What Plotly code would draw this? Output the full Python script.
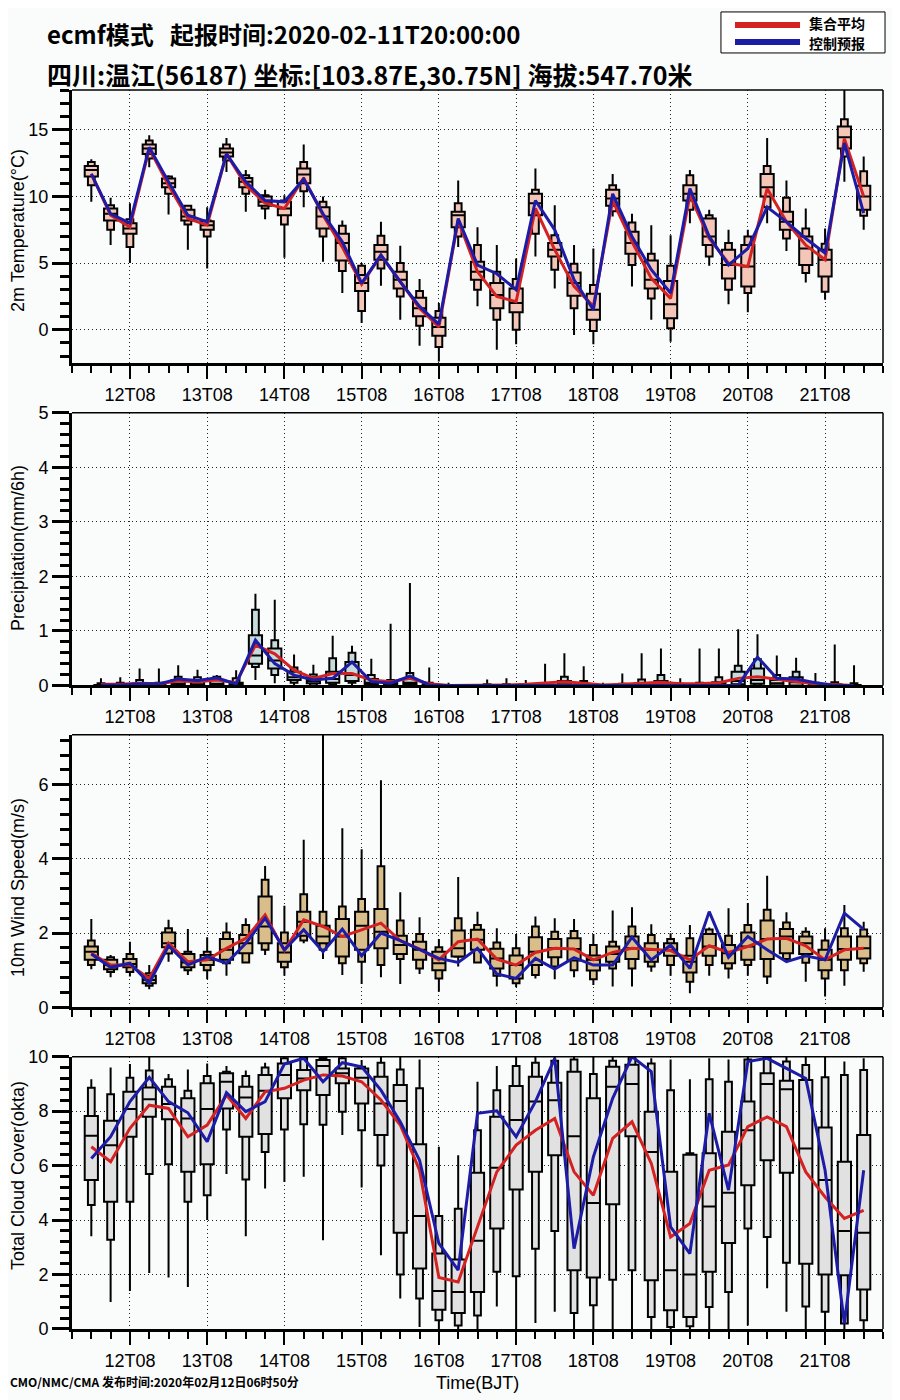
import plotly.graph_objects as go

# ---------------- time axis (hours after 2020-02-11T20 BJT) ----------------
HOURS = [6 * i for i in range(41)]              # 11T20 ... 21T20
PRECIP_HOURS = [3 + 6 * k for k in range(40)]   # middle of 6-h accumulation windows
MAJOR_TICKS = [12 + 24 * d for d in range(10)]
MAJOR_LABELS = ["12T08", "13T08", "14T08", "15T08", "16T08",
                "17T08", "18T08", "19T08", "20T08", "21T08"]

# ---------------- 2m temperature ----------------
T_MAX = [12.8, 9.9, 9.5, 14.6, 11.6, 9.35, 9.2, 14.4, 12.0, 10.5, 10.1, 13.9, 10.0, 8.2, 5.0, 8.1, 6.3, 3.8, 2.0, 11.2,
         7.7, 6.35, 5.35, 12.1, 9.35, 6.35, 6.1, 11.7, 8.7, 7.85, 7.1, 12.0, 9.0, 7.5, 7.5, 14.4, 11.2, 9.1, 7.6, 18.0, 13.0]
T_P90 = [12.6, 9.35, 8.3, 14.2, 11.5, 9.3, 8.2, 13.9, 11.6, 10.1, 9.7, 12.6, 9.6, 7.8, 4.8, 7.05, 5.0, 2.9, 1.4, 9.5,
         6.35, 4.35, 3.8, 10.5, 7.1, 4.95, 3.35, 10.85, 8.05, 5.7, 4.8, 11.6, 8.6, 6.5, 7.0, 12.3, 9.9, 7.6, 6.45, 15.8, 11.9]
T_P75 = [12.3, 9.1, 8.0, 13.9, 11.35, 9.0, 8.15, 13.6, 11.4, 10.0, 9.6, 12.1, 9.2, 7.2, 4.1, 6.35, 4.35, 2.4, 0.9, 8.85,
         5.1, 3.5, 3.1, 10.2, 6.5, 4.3, 2.7, 10.5, 7.35, 5.2, 3.65, 10.85, 8.35, 6.0, 6.35, 11.7, 8.85, 7.0, 6.0, 15.25, 10.8]
T_MED = [12.0, 8.7, 7.6, 13.6, 11.0, 8.5, 7.85, 13.3, 11.1, 9.6, 9.1, 11.65, 8.5, 6.5, 3.5, 5.85, 3.75, 1.6, 0.2, 8.6,
         4.35, 2.6, 2.0, 9.5, 6.0, 3.5, 1.5, 9.85, 6.5, 3.75, 1.9, 10.2, 7.0, 4.85, 4.75, 10.7, 8.1, 6.1, 5.25, 14.45, 10.0]
T_P25 = [11.5, 8.2, 7.2, 13.2, 10.7, 8.2, 7.5, 13.0, 10.7, 9.3, 8.6, 11.0, 7.6, 5.2, 2.9, 5.25, 3.1, 1.0, -0.45, 7.7,
         3.75, 1.6, 1.3, 8.6, 5.5, 2.55, 0.75, 9.3, 5.7, 3.1, 0.85, 9.7, 6.35, 3.85, 3.25, 10.0, 7.5, 4.85, 4.0, 13.6, 9.0]
T_P10 = [10.85, 7.5, 6.2, 12.85, 10.2, 7.9, 7.0, 12.7, 10.2, 9.1, 7.9, 10.4, 7.0, 4.4, 1.4, 4.6, 2.5, 0.3, -1.3, 7.0,
         3.0, 0.75, 0.0, 7.2, 4.5, 1.6, -0.1, 8.9, 4.85, 2.35, 0.1, 9.0, 5.5, 3.0, 2.75, 9.2, 6.85, 4.25, 2.85, 13.0, 8.55]
T_MIN = [9.6, 6.35, 5.0, 12.2, 8.65, 6.0, 4.6, 11.85, 8.85, 8.3, 5.4, 9.2, 5.1, 2.75, 0.5, 3.3, 0.75, -1.2, -2.4, 6.2,
         1.75, -1.5, -1.1, 5.5, 3.1, -0.4, -1.1, 8.5, 3.25, 0.75, -0.9, 8.0, 4.8, 1.9, 1.3, 8.0, 5.9, 3.55, 2.25, 11.1, 7.5]
T_MEAN = [11.7, 8.6, 7.7, 13.6, 10.85, 8.35, 7.85, 13.2, 10.85, 9.5, 9.1, 11.4, 8.6, 6.2, 3.4, 5.6, 3.6, 1.6, 0.2, 8.2,
          4.35, 2.5, 2.1, 9.1, 6.0, 3.25, 1.75, 9.7, 6.6, 3.85, 2.35, 10.1, 6.85, 5.0, 4.75, 10.6, 8.1, 6.35, 5.25, 14.35, 10.0]
T_CTRL = [11.7, 8.7, 8.0, 13.7, 11.1, 8.6, 8.1, 13.2, 11.1, 9.7, 9.6, 11.3, 8.7, 6.6, 3.5, 5.6, 3.6, 1.75, 0.4, 8.35,
          4.85, 4.2, 3.0, 9.7, 7.5, 3.75, 1.5, 10.2, 7.0, 4.5, 2.75, 10.6, 7.0, 4.85, 6.1, 9.2, 8.1, 6.85, 5.75, 14.0, 8.75]

# ---------------- precipitation (mm/6h) ----------------
P_MAX = [0.13, 0.15, 0.31, 0.31, 0.37, 0.29, 0.19, 0.28, 1.68, 1.57, 0.57, 0.38, 0.91, 0.73, 0.49, 1.13, 1.88, 0.33, 0.05, 0.02,
         0.11, 0.13, 0.10, 0.40, 0.59, 0.35, 0.05, 0.22, 0.59, 0.68, 0.13, 0.68, 0.68, 1.03, 0.94, 0.55, 0.51, 0.23, 0.75, 0.37]
P_P90 = [0.04, 0.05, 0.10, 0.05, 0.16, 0.15, 0.16, 0.13, 1.39, 0.83, 0.33, 0.20, 0.50, 0.60, 0.19, 0.10, 0.23, 0.05, 0.01, 0.0,
         0.02, 0.02, 0.02, 0.04, 0.16, 0.08, 0.01, 0.03, 0.11, 0.19, 0.03, 0.05, 0.15, 0.36, 0.48, 0.19, 0.25, 0.05, 0.06, 0.04]
P_P75 = [0.01, 0.02, 0.04, 0.02, 0.10, 0.08, 0.10, 0.05, 0.92, 0.68, 0.25, 0.15, 0.25, 0.43, 0.12, 0.05, 0.12, 0.02, 0.0, 0.0,
         0.0, 0.0, 0.0, 0.02, 0.08, 0.03, 0.0, 0.0, 0.04, 0.08, 0.0, 0.02, 0.06, 0.25, 0.31, 0.10, 0.15, 0.02, 0.02, 0.01]
P_MED = [0.0, 0.0, 0.01, 0.0, 0.03, 0.02, 0.03, 0.01, 0.55, 0.46, 0.15, 0.08, 0.12, 0.19, 0.05, 0.02, 0.05, 0.0, 0.0, 0.0,
         0.0, 0.0, 0.0, 0.0, 0.02, 0.0, 0.0, 0.0, 0.0, 0.02, 0.0, 0.0, 0.02, 0.08, 0.10, 0.04, 0.06, 0.0, 0.0, 0.0]
P_P25 = [0.0, 0.0, 0.0, 0.0, 0.0, 0.0, 0.0, 0.0, 0.40, 0.31, 0.10, 0.04, 0.05, 0.08, 0.02, 0.0, 0.02, 0.0, 0.0, 0.0,
         0.0, 0.0, 0.0, 0.0, 0.0, 0.0, 0.0, 0.0, 0.0, 0.0, 0.0, 0.0, 0.0, 0.02, 0.03, 0.0, 0.0, 0.0, 0.0, 0.0]
P_P10 = [0.0, 0.0, 0.0, 0.0, 0.0, 0.0, 0.0, 0.0, 0.34, 0.19, 0.05, 0.0, 0.02, 0.05, 0.0, 0.0, 0.0, 0.0, 0.0, 0.0,
         0.0, 0.0, 0.0, 0.0, 0.0, 0.0, 0.0, 0.0, 0.0, 0.0, 0.0, 0.0, 0.0, 0.0, 0.0, 0.0, 0.0, 0.0, 0.0, 0.0]
P_MIN = [0.0, 0.0, 0.0, 0.0, 0.0, 0.0, 0.0, 0.0, 0.10, 0.04, 0.0, 0.0, 0.0, 0.0, 0.0, 0.0, 0.0, 0.0, 0.0, 0.0,
         0.0, 0.0, 0.0, 0.0, 0.0, 0.0, 0.0, 0.0, 0.0, 0.0, 0.0, 0.0, 0.0, 0.0, 0.0, 0.0, 0.0, 0.0, 0.0, 0.0]
P_MEAN = [0.02, 0.02, 0.04, 0.03, 0.08, 0.07, 0.10, 0.05, 0.74, 0.58, 0.28, 0.13, 0.22, 0.22, 0.10, 0.07, 0.13, 0.03, 0.0, 0.0,
          0.01, 0.01, 0.02, 0.05, 0.07, 0.04, 0.01, 0.02, 0.04, 0.06, 0.03, 0.03, 0.05, 0.13, 0.16, 0.11, 0.07, 0.03, 0.01, 0.0]
P_CTRL = [0.01, 0.01, 0.03, 0.03, 0.12, 0.09, 0.14, 0.03, 0.83, 0.40, 0.19, 0.10, 0.13, 0.43, 0.07, 0.04, 0.17, 0.01, 0.0, 0.0,
          0.0, 0.0, 0.0, 0.0, 0.0, 0.0, 0.0, 0.0, 0.0, 0.0, 0.0, 0.0, 0.0, 0.0, 0.52, 0.13, 0.12, 0.05, 0.0, 0.0]

# ---------------- 10m wind speed (m/s) ----------------
W_MAX = [2.38, 1.41, 1.77, 1.14, 2.36, 2.11, 1.89, 2.29, 2.40, 3.81, 2.74, 4.52, 7.40, 4.83, 4.26, 6.12, 3.10, 2.43, 1.84, 3.51,
         2.58, 2.13, 1.98, 2.45, 2.40, 2.38, 1.98, 2.61, 2.70, 2.24, 2.00, 2.22, 2.15, 2.67, 2.81, 3.55, 2.56, 2.16, 2.13, 2.76, 2.31]
W_P90 = [1.80, 1.35, 1.44, 0.92, 2.13, 1.50, 1.50, 2.02, 2.22, 3.44, 2.02, 3.05, 2.58, 2.72, 2.92, 3.80, 2.34, 1.98, 1.62, 2.40,
         2.22, 1.75, 1.59, 2.18, 2.04, 2.06, 1.68, 1.77, 2.18, 1.95, 1.84, 1.86, 2.10, 1.93, 2.22, 2.63, 2.29, 2.04, 1.80, 2.13, 2.10]
W_P75 = [1.64, 1.28, 1.30, 0.85, 2.02, 1.44, 1.41, 1.84, 1.95, 2.99, 1.73, 2.58, 2.20, 2.38, 2.58, 2.65, 1.93, 1.77, 1.50, 2.07,
         2.09, 1.58, 1.40, 1.89, 1.84, 1.86, 1.40, 1.64, 1.91, 1.73, 1.73, 1.39, 1.98, 1.68, 2.02, 2.34, 2.11, 1.91, 1.55, 1.91, 1.91]
W_MED = [1.50, 1.14, 1.17, 0.74, 1.73, 1.21, 1.28, 1.55, 1.73, 2.18, 1.48, 2.31, 1.91, 1.91, 2.20, 2.04, 1.68, 1.55, 1.19, 1.59,
         1.82, 1.32, 1.14, 1.50, 1.59, 1.57, 1.28, 1.44, 1.59, 1.55, 1.55, 1.23, 1.64, 1.46, 1.64, 1.84, 1.91, 1.73, 1.28, 1.57, 1.59]
W_P25 = [1.28, 1.03, 1.08, 0.65, 1.62, 1.08, 1.14, 1.28, 1.46, 1.73, 1.23, 1.93, 1.73, 1.37, 1.55, 1.59, 1.44, 1.28, 1.00, 1.37,
         1.55, 1.05, 0.78, 1.14, 1.35, 1.26, 0.99, 1.23, 1.30, 1.23, 1.39, 0.94, 1.39, 1.19, 1.28, 1.30, 1.46, 1.44, 1.00, 1.28, 1.32]
W_P10 = [1.14, 0.95, 0.95, 0.58, 1.45, 1.00, 1.00, 1.19, 1.21, 1.55, 1.08, 1.80, 1.55, 1.19, 1.23, 1.14, 1.30, 1.05, 0.78, 1.37,
         1.21, 0.85, 0.65, 0.87, 1.10, 1.00, 0.76, 1.05, 1.05, 1.10, 1.14, 0.69, 1.14, 1.05, 1.14, 0.83, 1.30, 1.20, 0.78, 1.00, 1.19]
W_MIN = [1.03, 0.81, 0.83, 0.49, 1.23, 0.87, 0.76, 0.85, 1.21, 1.41, 0.85, 1.73, 1.30, 0.87, 0.63, 0.81, 0.63, 0.90, 0.42, 1.10,
         1.21, 0.56, 0.54, 0.78, 0.76, 0.81, 0.60, 0.56, 0.56, 0.96, 0.85, 0.38, 0.85, 0.78, 0.85, 0.63, 1.26, 0.69, 0.29, 0.58, 0.96]
W_MEAN = [1.46, 1.14, 1.14, 0.78, 1.73, 1.23, 1.28, 1.59, 1.86, 2.49, 1.53, 2.36, 2.18, 1.91, 2.09, 2.27, 1.80, 1.57, 1.28, 1.77,
          1.84, 1.30, 1.14, 1.48, 1.59, 1.57, 1.28, 1.48, 1.59, 1.55, 1.53, 1.28, 1.66, 1.48, 1.64, 1.84, 1.86, 1.66, 1.28, 1.55, 1.59]
W_CTRL = [1.44, 1.08, 1.19, 0.65, 1.66, 1.14, 1.37, 1.19, 1.73, 2.40, 1.55, 2.09, 1.50, 2.11, 1.39, 2.00, 1.80, 1.55, 1.32, 1.21,
          1.59, 0.90, 0.78, 1.32, 1.03, 1.34, 1.14, 1.14, 1.89, 1.28, 1.68, 1.05, 2.58, 1.35, 1.91, 1.55, 1.23, 1.39, 1.28, 2.54, 2.10]

# ---------------- total cloud cover (okta) ----------------
C_MAX = [9.17, 9.60, 9.73, 10.0, 9.36, 9.53, 9.75, 9.66, 9.49, 9.78, 10.0, 10.0, 10.0, 10.0, 9.88, 10.0, 10.0, 9.90, 6.69, 6.38,
         9.08, 9.66, 10.0, 10.0, 10.0, 10.0, 10.0, 10.0, 10.0, 9.94, 9.90, 9.17, 9.94, 9.90, 10.0, 10.0, 10.0, 10.0, 10.0, 9.82, 9.94]
C_P90 = [8.86, 8.62, 9.23, 9.49, 9.17, 8.75, 9.29, 9.45, 9.29, 9.60, 9.94, 9.98, 9.95, 9.94, 9.63, 9.78, 9.53, 8.84, 4.15, 4.42,
         7.30, 8.77, 9.66, 9.78, 9.85, 9.90, 9.36, 9.85, 10.0, 9.75, 8.77, 6.45, 9.17, 9.08, 9.90, 10.0, 9.82, 9.69, 9.24, 9.33, 9.51]
C_P75 = [7.82, 7.65, 8.71, 8.87, 8.90, 8.47, 9.02, 9.39, 8.90, 9.33, 9.75, 9.51, 9.88, 9.57, 9.57, 9.26, 8.96, 6.78, 2.77, 2.55,
         5.74, 7.79, 8.92, 9.26, 9.04, 9.45, 8.47, 9.63, 9.70, 7.98, 5.77, 6.40, 6.45, 7.24, 8.35, 9.39, 9.12, 9.14, 7.40, 6.14, 7.12]
C_MED = [7.10, 6.75, 8.08, 8.44, 8.26, 7.73, 8.08, 9.08, 8.50, 8.75, 9.33, 9.20, 9.66, 9.39, 9.23, 8.28, 8.37, 4.15, 1.40, 1.36,
         3.24, 5.92, 7.67, 8.35, 8.40, 7.08, 4.63, 8.90, 9.00, 6.50, 2.16, 2.00, 4.50, 5.00, 7.30, 9.00, 8.80, 6.63, 5.47, 3.60, 3.53]
C_P25 = [5.47, 4.67, 7.06, 7.79, 7.70, 5.77, 6.05, 8.10, 7.06, 7.16, 8.47, 8.77, 8.59, 9.02, 8.28, 7.12, 3.53, 2.22, 0.71, 0.59,
         1.36, 3.69, 5.12, 5.77, 6.38, 2.16, 1.89, 4.58, 7.08, 1.79, 0.69, 0.44, 2.10, 3.16, 5.28, 6.20, 5.74, 2.40, 2.00, 1.97, 1.45]
C_P10 = [4.55, 3.28, 4.67, 5.69, 6.05, 4.67, 4.91, 7.33, 5.49, 6.50, 7.33, 7.52, 7.50, 7.98, 7.30, 6.00, 2.00, 1.12, 0.32, 0.13,
         0.50, 2.10, 1.94, 2.95, 3.60, 0.59, 0.87, 1.81, 2.16, 0.44, 0.07, 0.10, 0.81, 1.36, 3.69, 3.38, 2.43, 0.83, 0.63, 0.20, 0.32]
C_MIN = [3.41, 0.99, 1.40, 2.06, 1.89, 1.54, 4.00, 5.69, 3.41, 5.16, 5.40, 5.59, 3.26, 7.12, 5.20, 2.71, 1.12, 0.07, 0.0, 0.0,
         0.0, 0.83, 0.0, 0.22, 0.63, 0.0, 0.0, 0.0, 0.0, 0.0, 0.0, 0.0, 0.0, 0.0, 0.13, 1.50, 0.63, 0.0, 0.0, 0.0, 0.0]
C_MEAN = [6.69, 6.14, 7.37, 8.22, 8.10, 7.06, 7.49, 8.59, 7.73, 8.71, 8.84, 9.14, 9.33, 9.29, 9.08, 8.41, 7.49, 5.83, 1.89, 1.73,
          3.75, 5.77, 6.75, 7.30, 7.73, 5.77, 4.91, 7.00, 7.61, 6.08, 3.38, 3.87, 5.83, 6.02, 7.43, 7.79, 7.43, 5.77, 4.85, 4.06, 4.36]
C_CTRL = [6.26, 7.06, 8.35, 9.24, 8.35, 7.94, 6.88, 8.68, 7.98, 8.35, 9.73, 9.94, 9.08, 9.78, 9.63, 8.77, 7.61, 6.20, 3.14, 2.16,
          7.92, 8.01, 7.06, 8.35, 9.94, 2.95, 6.32, 8.47, 10.0, 9.45, 3.75, 2.77, 7.92, 5.10, 9.82, 9.94, 9.57, 9.20, 5.83, 0.20, 5.83]

# ---------------- styles ----------------
RED = "#d42222"
BLUE = "#1c1ca6"
BG = "#fafbfb"
TICK_FONT = dict(family="Liberation Sans, Arial, sans-serif", size=18, color="black")
CJK = "Noto Sans CJK SC, sans-serif"

PANELS = [
    dict(xs=HOURS, st=(T_MAX, T_P90, T_P75, T_MED, T_P25, T_P10, T_MIN), mean=T_MEAN, ctrl=T_CTRL,
         fill="#f3c6b8", yr=[-2.5, 18], dt=5, mdt=1, dom=[0.7797, 1.0]),
    dict(xs=PRECIP_HOURS, st=(P_MAX, P_P90, P_P75, P_MED, P_P25, P_P10, P_MIN), mean=P_MEAN, ctrl=P_CTRL,
         fill="#c6dbdc", yr=[0, 5], dt=1, mdt=0.2, dom=[0.5194, 0.7395]),
    dict(xs=HOURS, st=(W_MAX, W_P90, W_P75, W_MED, W_P25, W_P10, W_MIN), mean=W_MEAN, ctrl=W_CTRL,
         fill="#d9be8c", yr=[0, 7.35], dt=2, mdt=0.4, dom=[0.2596, 0.4797]),
    dict(xs=HOURS, st=(C_MAX, C_P90, C_P75, C_MED, C_P25, C_P10, C_MIN), mean=C_MEAN, ctrl=C_CTRL,
         fill="#e1e1e1", yr=[0, 10], dt=2, mdt=0.4, dom=[0.0, 0.2198]),
]

fig = go.Figure()
layout = {}
shapes = []
for n, p in enumerate(PANELS, start=1):
    sx = "" if n == 1 else str(n)
    xa, ya = "x" + sx, "y" + sx
    mx, p90, p75, med, p25, p10, mn = p["st"]
    common = dict(x=p["xs"], xaxis=xa, yaxis=ya, fillcolor=p["fill"],
                  line=dict(color="black", width=2), whiskerwidth=0,
                  boxpoints=False, hoverinfo="skip", showlegend=False)
    # narrow box: 10-90 percentile with min/max whiskers
    fig.add_trace(go.Box(q1=p10, q3=p90, median=med, lowerfence=mn, upperfence=mx, width=2.1, **common))
    # wide box: 25-75 percentile with median
    fig.add_trace(go.Box(q1=p25, q3=p75, median=med, lowerfence=p25, upperfence=p75, width=4.1, **common))
    fig.add_trace(go.Scatter(x=p["xs"], y=p["mean"], mode="lines", line=dict(color=RED, width=3),
                             xaxis=xa, yaxis=ya, name="集合平均", showlegend=False))
    fig.add_trace(go.Scatter(x=p["xs"], y=p["ctrl"], mode="lines", line=dict(color=BLUE, width=3),
                             xaxis=xa, yaxis=ya, name="控制预报", showlegend=False))

    layout["xaxis" + sx] = dict(
        domain=[0, 1], anchor=ya, range=[-6, 246],
        tickmode="array", tickvals=MAJOR_TICKS, ticktext=MAJOR_LABELS,
        ticks="outside", ticklen=13, tickwidth=2, tickcolor="black",
        showline=True, linewidth=3, linecolor="black",
        showgrid=True, gridcolor="#222", gridwidth=1, griddash="1px,3px",
        zeroline=False, tickfont=TICK_FONT, ticklabelstandoff=0,
        minor=dict(tickmode="linear", tick0=-6, dtick=6, ticks="outside", ticklen=7,
                   tickwidth=2, tickcolor="black", showgrid=False),
    )
    layout["yaxis" + sx] = dict(
        domain=p["dom"], anchor=xa, range=p["yr"],
        tickmode="linear", tick0=0, dtick=p["dt"],
        ticks="outside", ticklen=17, tickwidth=3, tickcolor="black",
        showline=True, linewidth=3, linecolor="black",
        showgrid=True, gridcolor="#222", gridwidth=1, griddash="1px,3px",
        zeroline=False, tickfont=TICK_FONT,
        minor=dict(tickmode="linear", tick0=0, dtick=p["mdt"], ticks="outside", ticklen=9,
                   tickwidth=3, tickcolor="black", showgrid=False),
    )
    # thin top / right frame
    shapes.append(dict(type="line", xref=xa + " domain", yref=ya + " domain", x0=0, x1=1, y0=1, y1=1,
                       line=dict(color="black", width=1.5)))
    shapes.append(dict(type="line", xref=xa + " domain", yref=ya + " domain", x0=1, x1=1, y0=0, y1=1,
                       line=dict(color="black", width=1.5)))

# legend box (drawn manually)
shapes.append(dict(type="rect", xref="paper", yref="paper", x0=0.8002, x1=1.0025, y0=1.0299, y1=1.0630,
                   line=dict(color="black", width=1), fillcolor="white"))
shapes.append(dict(type="line", xref="paper", yref="paper", x0=0.8175, x1=0.8977, y0=1.0525, y1=1.0525,
                   line=dict(color=RED, width=6)))
shapes.append(dict(type="line", xref="paper", yref="paper", x0=0.8175, x1=0.8977, y0=1.0387, y1=1.0387,
                   line=dict(color=BLUE, width=6)))

ann = []
def A(text, x, y, size, family=CJK, xanchor="left", angle=0, bold=False):
    ann.append(dict(text=("<b>%s</b>" % text) if bold else text, x=x, y=y, xref="paper", yref="paper",
                    showarrow=False, xanchor=xanchor, yanchor="middle", textangle=angle,
                    font=dict(family=family, size=size, color="black")))

A("ecmf模式&nbsp;&nbsp;&nbsp;起报时间:2020-02-11T20:00:00", -0.0333, 1.0460, 24, bold=True)
A("四川:温江(56187) 坐标:[103.87E,30.75N] 海拔:547.70米", -0.0333, 1.0129, 25, bold=True)
A("集合平均", 0.9063, 1.0537, 14, bold=True)
A("控制预报", 0.9063, 1.0377, 14, bold=True)
YT = "Liberation Sans, Arial, sans-serif"
A("2m Temperature(°C)", -0.0666, 0.887, 18, family=YT, xanchor="center", angle=-90)
A("Precipitation(mm/6h)", -0.0666, 0.6303, 18, family=YT, xanchor="center", angle=-90)
A("10m Wind Speed(m/s)", -0.0666, 0.3567, 18, family=YT, xanchor="center", angle=-90)
A("Total Cloud Cover(okta)", -0.0666, 0.1243, 18, family=YT, xanchor="center", angle=-90)
A("Time(BJT)", 0.5006, -0.0435, 18, family=YT, xanchor="center")
A("CMO/NMC/CMA 发布时间:2020年02月12日06时50分", -0.0789, -0.0420, 12, bold=True)

# the page body adds an 8 px offset, so the margins are shifted to compensate
fig.update_layout(
    width=900, height=1400,
    margin=dict(l=64, r=25, t=82, b=79),
    paper_bgcolor=BG, plot_bgcolor=BG,
    boxmode="overlay", showlegend=False,
    shapes=shapes, annotations=ann,
    **layout,
)

fig.write_html("out.html")
